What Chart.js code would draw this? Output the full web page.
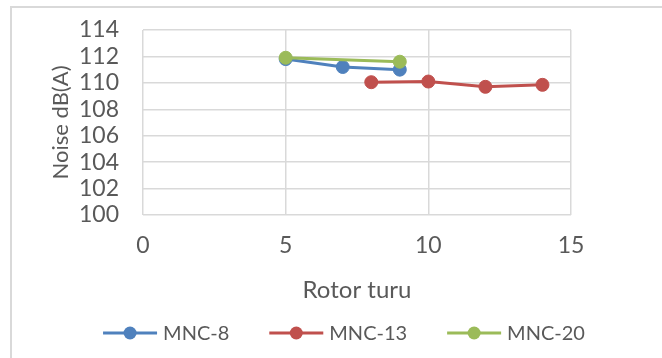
<!DOCTYPE html>
<html>
<head>
<meta charset="utf-8">
<script src="https://cdn.jsdelivr.net/npm/chart.js@4"></script>
<style>
  html, body { margin: 0; padding: 0; background: #fff; }
  #wrap { position: relative; width: 662px; height: 358px; overflow: hidden; }
  #frame { position: absolute; left: 10px; top: 6px; width: 700px; height: 400px;
           border-left: 2px solid #D9D9D9; border-top: 2px solid #D9D9D9; box-sizing: border-box; }
  canvas { position: absolute; left: 0; top: 0; }
</style>
</head>
<body>
<div id="wrap">
  <div id="frame"></div>
  <canvas id="c" width="662" height="358"></canvas>
</div>
<script>
// Noise level versus rotor speed for three machine variants
const seriesNames = ['MNC-8', 'MNC-13', 'MNC-20'];
const mnc8X  = [5, 7, 9];
const mnc8Y  = [111.8, 111.2, 111.0];
const mnc13X = [8, 10, 12, 14];
const mnc13Y = [110.05, 110.1, 109.7, 109.85];
const mnc20X = [5, 9];
const mnc20Y = [111.9, 111.6];

const xTicks = [0, 5, 10, 15];
const yTicks = [100, 102, 104, 106, 108, 110, 112, 114];

const colors = ['#4F81BD', '#C0504D', '#9BBB59'];
const textColor = '#595959';
const gridColor = '#D9D9D9';
const fontFamily = 'Lato, "Open Sans", "Liberation Sans", sans-serif';

function pts(xs, ys) { return xs.map((x, i) => ({ x: x, y: ys[i] })); }

const seriesData = [pts(mnc8X, mnc8Y), pts(mnc13X, mnc13Y), pts(mnc20X, mnc20Y)];

const datasets = seriesNames.map((name, i) => ({
  label: name,
  data: seriesData[i],
  borderColor: colors[i],
  backgroundColor: colors[i],
  pointBackgroundColor: colors[i],
  pointBorderColor: colors[i],
  pointRadius: 6.5,
  pointBorderWidth: 1,
  borderWidth: 3,
  showLine: true,
  tension: 0,
  // later series are painted over earlier ones
  order: seriesNames.length - i
}));

// Bottom legend: a short line with a round marker, then the series name
const lineLegend = {
  id: 'lineLegend',
  afterDraw(chart, args, opts) {
    const ctx = chart.ctx;
    ctx.save();
    ctx.font = opts.fontSize + 'px ' + fontFamily;
    ctx.textBaseline = 'middle';
    const widths = chart.data.datasets.map(d => opts.swatch + opts.textGap + ctx.measureText(d.label).width);
    const total = widths.reduce((a, b) => a + b, 0) + opts.itemGap * (widths.length - 1);
    let x = opts.centerX - total / 2;
    const y = opts.centerY;
    chart.data.datasets.forEach((d, i) => {
      ctx.strokeStyle = d.borderColor;
      ctx.lineWidth = 3;
      ctx.beginPath(); ctx.moveTo(x, y); ctx.lineTo(x + opts.swatch, y); ctx.stroke();
      ctx.fillStyle = d.borderColor;
      ctx.beginPath(); ctx.arc(x + opts.swatch / 2, y, 6.5, 0, Math.PI * 2); ctx.fill();
      ctx.fillStyle = textColor;
      ctx.textAlign = 'left';
      ctx.fillText(d.label, x + opts.swatch + opts.textGap, y + 1);
      x += widths[i] + opts.itemGap;
    });
    ctx.restore();
  }
};

new Chart(document.getElementById('c'), {
  type: 'scatter',
  data: { datasets: datasets },
  plugins: [lineLegend],
  options: {
    responsive: false,
    animation: false,
    layout: { padding: { left: 40, top: 30, right: 91, bottom: 55 } },
    plugins: {
      tooltip: { enabled: false },
      legend: { display: false },
      lineLegend: { centerX: 344, centerY: 333, swatch: 54, textGap: 6, itemGap: 40, fontSize: 20 }
    },
    scales: {
      x: {
        type: 'linear',
        min: 0, max: 15,
        afterBuildTicks: (s) => { s.ticks = xTicks.map(v => ({ value: v })); },
        afterFit: (s) => { s.height = 88; },
        grid: { color: gridColor, lineWidth: 1.5, drawTicks: true, tickLength: 17, tickColor: 'rgba(0,0,0,0)' },
        border: { display: false },
        ticks: { color: textColor, font: { family: fontFamily, size: 23 }, padding: 0, autoSkip: false, maxRotation: 0 },
        title: { display: true, text: 'Rotor turu', color: textColor,
                 font: { family: fontFamily, size: 24 }, padding: { top: 4, bottom: -2 } }
      },
      y: {
        min: 100, max: 114,
        afterBuildTicks: (s) => { s.ticks = yTicks.map(v => ({ value: v })); },
        afterFit: (s) => { s.width = 103; },
        grid: { color: gridColor, lineWidth: 1.5, drawTicks: true, tickLength: 24, tickColor: 'rgba(0,0,0,0)' },
        border: { display: false },
        ticks: { color: textColor, font: { family: fontFamily, size: 23 }, padding: 0, autoSkip: false },
        title: { display: true, text: 'Noise dB(A)', color: textColor,
                 font: { family: fontFamily, size: 22 }, padding: { top: 8, bottom: 0 } }
      }
    }
  }
});
</script>
</body>
</html>
